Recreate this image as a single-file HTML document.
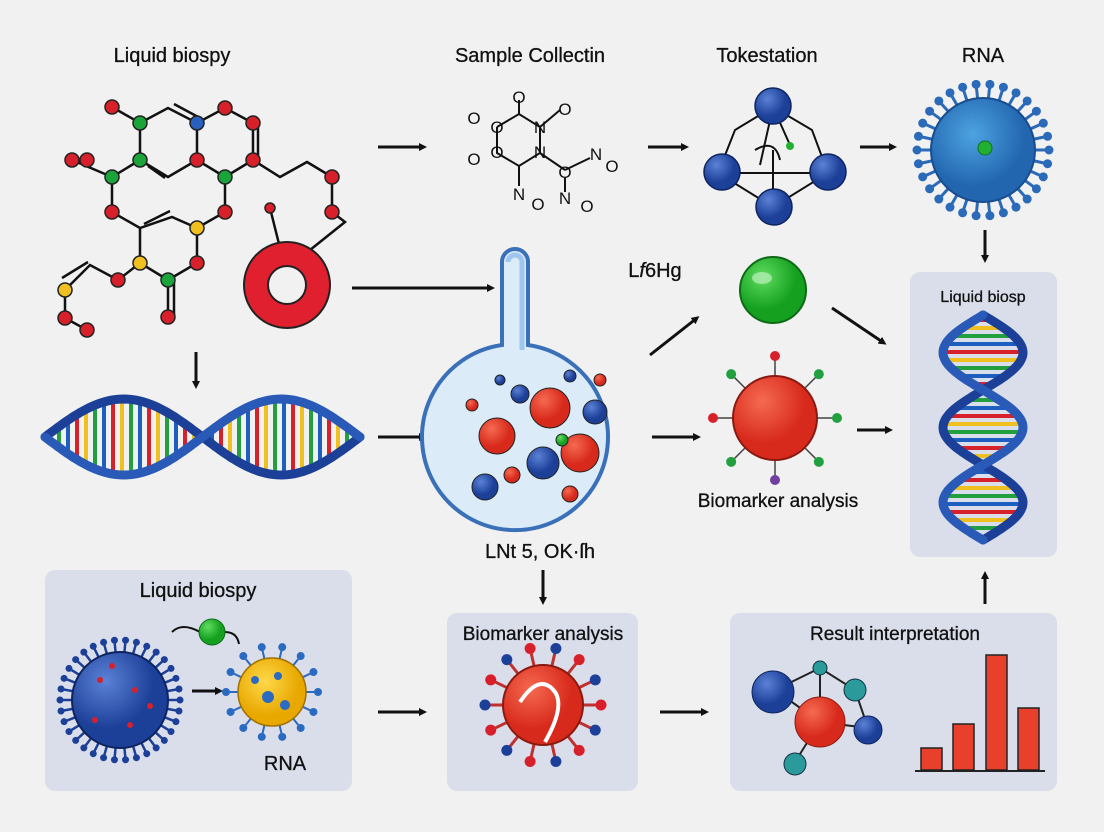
<!DOCTYPE html>
<html><head><meta charset="utf-8"><style>
html,body{margin:0;padding:0;background:#f1f1f1;}
svg{display:block;font-family:"Liberation Sans",sans-serif;}
</style></head><body>
<svg id="s" width="1104" height="832" viewBox="0 0 1104 832" xmlns="http://www.w3.org/2000/svg">
<defs>
<marker id="ah" markerWidth="8" markerHeight="8" refX="5" refY="4" orient="auto" markerUnits="userSpaceOnUse"><path d="M0,0 L8,4 L0,8z" fill="#111"/></marker>
<radialGradient id="gb" cx="35%" cy="30%"><stop offset="0" stop-color="#5b82d6"/><stop offset="1" stop-color="#1c3f98"/></radialGradient>
<radialGradient id="gr" cx="35%" cy="30%"><stop offset="0" stop-color="#f56a50"/><stop offset="1" stop-color="#d82a1c"/></radialGradient>
<radialGradient id="gg" cx="35%" cy="30%"><stop offset="0" stop-color="#5fdc5f"/><stop offset="1" stop-color="#15a020"/></radialGradient>
<radialGradient id="gv" cx="40%" cy="35%"><stop offset="0" stop-color="#4da3e0"/><stop offset="1" stop-color="#2266b0"/></radialGradient>
<radialGradient id="gy" cx="40%" cy="35%"><stop offset="0" stop-color="#ffd84a"/><stop offset="1" stop-color="#e8a800"/></radialGradient>
</defs>
<rect width="1104" height="832" fill="#f1f1f1"/>
<rect x="910" y="272" width="147" height="285" rx="10" fill="#d9deea"/>
<rect x="45" y="570" width="307" height="221" rx="10" fill="#d9deea"/>
<rect x="447" y="613" width="191" height="178" rx="10" fill="#d9deea"/>
<rect x="730" y="613" width="327" height="178" rx="10" fill="#d9deea"/>

<g font-size="20" fill="#111" text-anchor="middle" stroke="#111" stroke-width="0.3">
<text x="172" y="62">Liquid biospy</text>
<text x="530" y="62">Sample Collectin</text>
<text x="767" y="62">Tokestation</text>
<text x="983" y="62">RNA</text>
<text x="655" y="277">L<tspan font-style="italic">f</tspan>6Hg</text>
<text x="778" y="507" font-size="19">Biomarker analysis</text>
<text x="540" y="558">LNt 5, OK·ſh</text>
<text x="983" y="302" font-size="16">Liquid biosp</text>
<text x="198" y="597">Liquid biospy</text>
<text x="543" y="640" font-size="19">Biomarker analysis</text>
<text x="895" y="640" font-size="19">Result interpretation</text>
<text x="285" y="770">RNA</text>
</g>

<g stroke="#111" stroke-width="3" marker-end="url(#ah)" fill="none">
<line x1="378" y1="147" x2="424" y2="147"/>
<line x1="648" y1="147" x2="686" y2="147"/>
<line x1="860" y1="147" x2="894" y2="147"/>
<line x1="352" y1="288" x2="492" y2="288"/>
<line x1="196" y1="352" x2="196" y2="386"/>
<line x1="378" y1="437" x2="424" y2="437"/>
<line x1="652" y1="437" x2="698" y2="437"/>
<line x1="650" y1="355" x2="697" y2="318"/>
<line x1="832" y1="308" x2="884" y2="343"/>
<line x1="857" y1="430" x2="890" y2="430"/>
<line x1="543" y1="570" x2="543" y2="602"/>
<line x1="985" y1="230" x2="985" y2="260"/>
<line x1="985" y1="604" x2="985" y2="574"/>
<line x1="378" y1="712" x2="424" y2="712"/>
<line x1="660" y1="712" x2="706" y2="712"/>
<line x1="192" y1="691" x2="220" y2="691"/>
</g>

<g stroke="#111" stroke-width="2.5" fill="none">
<polyline points="112,107 140,123 168,108 197,123 225,108 253,123 253,160 225,177 197,160 168,177 140,160 140,123"/>
<line x1="197" y1="123" x2="197" y2="160"/>
<polyline points="72,160 112,177 140,160"/>
<polyline points="112,177 112,212 140,228 172,217 197,228 225,212 225,177"/>
<polyline points="140,228 140,263 168,280 197,263 197,228"/>
<line x1="168" y1="280" x2="168" y2="317"/>
<polyline points="140,263 118,280 90,265 65,290 65,318 87,330"/>
<polyline points="253,160 280,177 307,162 332,177 332,212 345,222 310,250"/>
<line x1="270" y1="208" x2="280" y2="248"/>
<line x1="174" y1="104" x2="200" y2="118"/><line x1="148" y1="166" x2="165" y2="178"/>
<line x1="258" y1="124" x2="258" y2="158"/><line x1="144" y1="224" x2="170" y2="211"/>
<line x1="174" y1="282" x2="174" y2="316"/><line x1="62" y1="278" x2="88" y2="262"/>
</g>
<g stroke="#222" stroke-width="1.5">
<circle cx="112" cy="107" r="7" fill="#d8202a"/><circle cx="140" cy="123" r="7" fill="#1aa43a"/>
<circle cx="197" cy="123" r="7" fill="#2860c0"/><circle cx="225" cy="108" r="7" fill="#d8202a"/>
<circle cx="253" cy="123" r="7" fill="#d8202a"/><circle cx="140" cy="160" r="7" fill="#1aa43a"/>
<circle cx="197" cy="160" r="7" fill="#d8202a"/><circle cx="225" cy="177" r="7" fill="#1aa43a"/>
<circle cx="253" cy="160" r="7" fill="#d8202a"/><circle cx="72" cy="160" r="7" fill="#d8202a"/>
<circle cx="87" cy="160" r="7" fill="#d8202a"/><circle cx="112" cy="177" r="7" fill="#1aa43a"/>
<circle cx="112" cy="212" r="7" fill="#d8202a"/><circle cx="225" cy="212" r="7" fill="#d8202a"/>
<circle cx="197" cy="228" r="7" fill="#f0c020"/><circle cx="197" cy="263" r="7" fill="#d8202a"/>
<circle cx="168" cy="280" r="7" fill="#1aa43a"/><circle cx="168" cy="317" r="7" fill="#d8202a"/>
<circle cx="140" cy="263" r="7" fill="#f0c020"/><circle cx="118" cy="280" r="7" fill="#d8202a"/>
<circle cx="65" cy="290" r="7" fill="#f0c020"/><circle cx="65" cy="318" r="7" fill="#d8202a"/>
<circle cx="87" cy="330" r="7" fill="#d8202a"/><circle cx="332" cy="177" r="7" fill="#d8202a"/>
<circle cx="332" cy="212" r="7" fill="#d8202a"/><circle cx="270" cy="208" r="5" fill="#d8202a"/>
</g>
<circle cx="287" cy="285" r="31" fill="none" stroke="#222" stroke-width="26"/>
<circle cx="287" cy="285" r="31" fill="none" stroke="#e0202e" stroke-width="22"/>

<g stroke="#111" stroke-width="2" fill="none">
<polyline points="497,127 519,114 540,127 540,153 519,166 497,153 497,127"/>
<line x1="519" y1="114" x2="519" y2="100"/><line x1="519" y1="166" x2="519" y2="186"/>
<line x1="540" y1="153" x2="565" y2="170"/><line x1="565" y1="170" x2="590" y2="158"/>
<line x1="565" y1="178" x2="565" y2="192"/><line x1="540" y1="127" x2="560" y2="110"/>
</g>
<g font-size="17" fill="#111" text-anchor="middle">
<text x="519" y="103">O</text><text x="474" y="124">O</text><text x="497" y="133">O</text>
<text x="540" y="133">N</text><text x="565" y="115">O</text><text x="540" y="158">N</text>
<text x="497" y="158">O</text><text x="474" y="165">O</text><text x="565" y="178">O</text>
<text x="596" y="160">N</text><text x="612" y="172">O</text>
<text x="519" y="200">N</text><text x="538" y="210">O</text>
<text x="565" y="204">N</text><text x="587" y="212">O</text>
</g>

<g stroke="#111" stroke-width="2" fill="none">
<path d="M773,107 L735,130 L718,173 L773,207 L828,173 L812,130 Z"/>
<line x1="773" y1="107" x2="760" y2="165"/><line x1="773" y1="107" x2="790" y2="145"/>
<line x1="718" y1="173" x2="828" y2="173"/><line x1="773" y1="150" x2="773" y2="207"/>
<path d="M755,150 q20,-12 25,10"/>
</g>
<g stroke="#0d2460" stroke-width="1.5">
<circle cx="773" cy="106" r="18" fill="url(#gb)"/><circle cx="722" cy="172" r="18" fill="url(#gb)"/>
<circle cx="828" cy="172" r="18" fill="url(#gb)"/><circle cx="774" cy="207" r="18" fill="url(#gb)"/>
</g>
<circle cx="790" cy="146" r="4" fill="#22b030"/>

<g id="v1"></g>
<circle cx="983" cy="150" r="52" fill="url(#gv)" stroke="#1a4c90" stroke-width="2"/>
<circle cx="985" cy="148" r="7" fill="#22b030" stroke="#117020"/>

<path d="M502,262 a13,13 0 0 1 26,0 V345 A93,93 0 1 1 502,345 Z" fill="#dcebf8" stroke="#3a70b8" stroke-width="4"/>
<path d="M508,262 a7,7 0 0 1 14,0 V350" fill="none" stroke="#9ec6ee" stroke-width="5"/>
<g stroke="#222" stroke-width="1">
<circle cx="550" cy="408" r="20" fill="url(#gr)"/><circle cx="497" cy="436" r="18" fill="url(#gr)"/>
<circle cx="580" cy="453" r="19" fill="url(#gr)"/><circle cx="543" cy="463" r="16" fill="url(#gb)"/>
<circle cx="485" cy="487" r="13" fill="url(#gb)"/><circle cx="595" cy="412" r="12" fill="url(#gb)"/>
<circle cx="520" cy="394" r="9" fill="url(#gb)"/><circle cx="570" cy="494" r="8" fill="url(#gr)"/>
<circle cx="472" cy="405" r="6" fill="url(#gr)"/><circle cx="512" cy="475" r="8" fill="url(#gr)"/>
<circle cx="562" cy="440" r="6" fill="url(#gg)"/><circle cx="600" cy="380" r="6" fill="url(#gr)"/>
<circle cx="570" cy="376" r="6" fill="url(#gb)"/><circle cx="500" cy="380" r="5" fill="url(#gb)"/>
</g>

<g id="dna"></g>

<circle cx="773" cy="290" r="33" fill="url(#gg)" stroke="#0d6a15" stroke-width="2"/>
<ellipse cx="762" cy="278" rx="10" ry="6" fill="#bff0bf" opacity=".7"/>
<g id="rs"></g>
<circle cx="775" cy="418" r="42" fill="url(#gr)" stroke="#8a1a10" stroke-width="2"/>

<g id="dna2"></g>

<g id="v2"></g>
<circle cx="120" cy="700" r="48" fill="url(#gb)" stroke="#0d2460" stroke-width="2"/>
<g fill="#d8202a"><circle cx="100" cy="680" r="3"/><circle cx="135" cy="690" r="3"/><circle cx="95" cy="720" r="3"/><circle cx="130" cy="725" r="3"/><circle cx="150" cy="706" r="3"/><circle cx="112" cy="666" r="3"/></g>
<path d="M172,632 q10,-10 28,0 M225,632 q12,0 14,12" stroke="#111" stroke-width="2" fill="none"/>
<circle cx="212" cy="632" r="13" fill="url(#gg)" stroke="#0d6a15"/>
<g id="v3"></g>
<circle cx="272" cy="692" r="34" fill="url(#gy)" stroke="#a07000" stroke-width="1.5"/>
<g fill="#2a6ac0"><circle cx="268" cy="697" r="6"/><circle cx="255" cy="680" r="4"/><circle cx="285" cy="705" r="5"/><circle cx="278" cy="676" r="4"/></g>

<g id="rs2"></g>
<circle cx="543" cy="705" r="40" fill="url(#gr)" stroke="#8a1a10" stroke-width="2"/>
<path d="M520,702 q20,-30 35,-10 q10,15 -10,50" stroke="#fff" stroke-width="4" fill="none"/>

<g stroke="#222" stroke-width="2" fill="none">
<polyline points="775,690 820,668 855,690 868,728"/><line x1="775" y1="690" x2="820" y2="722"/>
<line x1="820" y1="722" x2="795" y2="762"/><line x1="820" y1="722" x2="868" y2="728"/><line x1="820" y1="668" x2="820" y2="722"/>
</g>
<circle cx="773" cy="692" r="21" fill="url(#gb)" stroke="#0d2460"/>
<circle cx="820" cy="722" r="25" fill="url(#gr)" stroke="#8a1a10"/>
<circle cx="855" cy="690" r="11" fill="#2a9a9a" stroke="#134"/>
<circle cx="868" cy="730" r="14" fill="url(#gb)" stroke="#0d2460"/>
<circle cx="795" cy="764" r="11" fill="#2a9a9a" stroke="#134"/>
<circle cx="820" cy="668" r="7" fill="#2a9a9a" stroke="#134"/>
<g fill="#e8402c" stroke="#222" stroke-width="1.5">
<rect x="921" y="748" width="21" height="22"/><rect x="953" y="724" width="21" height="46"/>
<rect x="986" y="655" width="21" height="115"/><rect x="1018" y="708" width="21" height="62"/>
</g>
<line x1="915" y1="771" x2="1045" y2="771" stroke="#222" stroke-width="2"/>
</svg>
<script>
var NS="http://www.w3.org/2000/svg";
function el(p,t,a){var e=document.createElementNS(NS,t);for(var k in a)e.setAttribute(k,a[k]);document.getElementById(p).appendChild(e);return e;}
function spikes(id,cx,cy,r1,r2,n,col,sw,kr,kcol){for(var i=0;i<n;i++){var a=i/n*Math.PI*2;var x=cx+Math.cos(a)*r2,y=cy+Math.sin(a)*r2;
el(id,"line",{x1:cx+Math.cos(a)*r1,y1:cy+Math.sin(a)*r1,x2:x,y2:y,stroke:col,"stroke-width":sw});
el(id,"circle",{cx:x,cy:y,r:kr,fill:kcol?kcol[i%kcol.length]:col});}}
spikes("v1",983,150,45,66,30,"#2a6ab8",3,4.5);
spikes("v2",120,700,42,60,34,"#1c3f98",2.5,3.5);
spikes("v3",272,692,28,46,14,"#2a6ac0",2,4);
spikes("rs",775,418,38,62,8,"#444",1.5,5,["#22a040","#22a040","#7040a0","#22a040","#d8202a","#22a040","#d8202a","#22a040"]);
spikes("rs2",543,705,36,58,14,"#c03030",3,5.5,["#d8202a","#1c3f98"]);
var cols=["#d8202a","#f0c020","#22a040","#1c5fc0"];
for(var x=50;x<=355;x+=9){var a=(x-45)/315*Math.PI*2;var y1=437+Math.sin(a)*38,y2=437-Math.sin(a)*38;
el("dna","line",{x1:x,y1:y1,x2:x,y2:y2,stroke:cols[Math.floor(x/9)%4],"stroke-width":4});}
function strand(id,f,c){var d="";for(var t=0;t<=100;t++){var p=f(t/100);d+=(t?"L":"M")+p[0].toFixed(1)+","+p[1].toFixed(1);}el(id,"path",{d:d,stroke:c,"stroke-width":9,fill:"none","stroke-linecap":"round"});}
strand("dna",function(t){var x=45+t*315;return [x,437-Math.sin(t*Math.PI*2)*38];},"#1c3f98");
strand("dna",function(t){var x=45+t*315;return [x,437+Math.sin(t*Math.PI*2)*38];},"#2a5ab8");
for(var y=320;y<=535;y+=8){var a=(y-315)/225*Math.PI*2*1.5;var x1=983+Math.sin(a)*40,x2=983-Math.sin(a)*40;
el("dna2","line",{x1:x1,y1:y,x2:x2,y2:y,stroke:cols[Math.floor(y/8)%4],"stroke-width":4});}
strand("dna2",function(t){var y=315+t*225;return [983+Math.sin(t*Math.PI*2*1.5)*40,y];},"#1c3f98");
strand("dna2",function(t){var y=315+t*225;return [983-Math.sin(t*Math.PI*2*1.5)*40,y];},"#2a5ab8");
</script>
</body></html>
